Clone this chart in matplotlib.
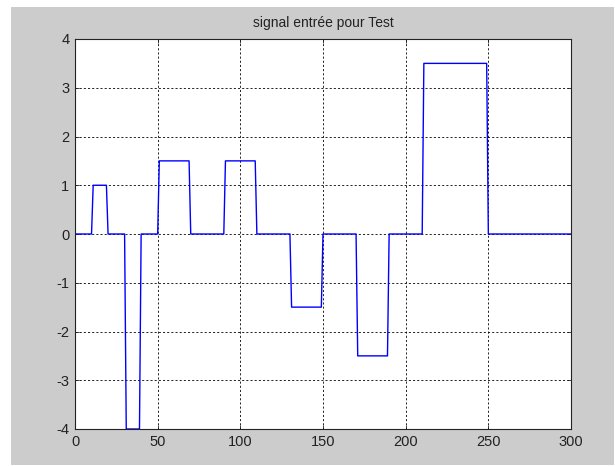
import numpy as np
import matplotlib.pyplot as plt
from matplotlib.patches import Rectangle

# piecewise-constant test signal: level held strictly between start and end
seg_start = [10, 30, 50, 90, 130, 170, 210]
seg_end = [20, 40, 70, 110, 150, 190, 250]
seg_level = [1, -4, 1.5, 1.5, -1.5, -2.5, 3.5]
t_max = 300

xticks = [0, 50, 100, 150, 200, 250, 300]
yticks = [-4, -3, -2, -1, 0, 1, 2, 3, 4]


def main():
    plt.rcParams['font.family'] = ['Liberation Sans', 'DejaVu Sans']
    plt.rcParams['axes.unicode_minus'] = False

    t = np.arange(t_max + 1)
    x = np.zeros(len(t))
    for a, b, lev in zip(seg_start, seg_end, seg_level):
        x[(t > a) & (t < b)] = lev

    fig = plt.figure(figsize=(6.15, 4.66), dpi=100, facecolor='white')
    fig.patches.append(Rectangle((11 / 615, 1 - 465 / 466), 603 / 615, 458 / 466,
                                 transform=fig.transFigure, facecolor='#cccccc',
                                 edgecolor='none', zorder=-10))

    ax = fig.add_axes([75 / 615, 37 / 466, 496 / 615, 390 / 466])
    ax.set_facecolor('white')
    ax.plot(t, x, color='#0000ff', linewidth=1.0)

    ax.set_xlim(0, t_max)
    ax.set_ylim(-4, 4)
    ax.set_xticks(xticks)
    ax.set_yticks(yticks)
    ax.grid(True, color='black', linestyle=(0, (2.5, 2.5)), linewidth=0.6)
    ax.tick_params(direction='in', length=3, width=0.6, colors='#222222',
                   labelsize=10.5, top=True, right=True, pad=4)
    for s in ax.spines.values():
        s.set_color('#222222')
        s.set_linewidth(0.8)

    ax.set_title('signal entrée pour Test', fontsize=10, color='#222222', pad=9)

    fig.savefig('out.png', dpi=100, facecolor='white')


if __name__ == '__main__':
    main()
